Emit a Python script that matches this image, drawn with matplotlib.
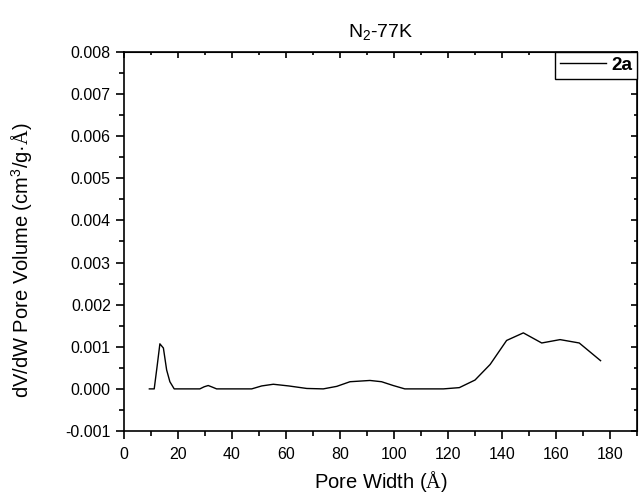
import matplotlib
matplotlib.use("Agg")
import matplotlib.pyplot as plt
from matplotlib.ticker import MultipleLocator, FormatStrFormatter

plt.rcParams['font.family'] = ['Liberation Sans', 'DejaVu Sans']
plt.rcParams['mathtext.fontset'] = 'custom'
plt.rcParams['mathtext.rm'] = 'Liberation Sans'
plt.rcParams['mathtext.it'] = 'Liberation Sans'
plt.rcParams['mathtext.cal'] = 'Liberation Serif'
plt.rcParams['axes.unicode_minus'] = False

# pore width (A) and dV/dW values
pore_width = [9.4, 11.2, 12.3, 13.3, 14.6, 15.8, 17.0, 18.6, 20.0, 25.0,
              28.1, 29.7, 31.2, 32.8, 34.3, 40.0, 47.3, 51.0, 55.3, 61.0,
              67.7, 73.8, 78.8, 83.7, 91.1, 95.4, 99.7, 104.0, 110.0, 118.3,
              124.2, 130.0, 135.6, 141.7, 147.9, 154.7, 161.5, 168.6, 176.5]
dvdw = [0.0, 0.0, 0.00055, 0.00107, 0.00097, 0.00045, 0.00017, 0.0, 0.0, 0.0,
        0.0, 0.00005, 0.00008, 0.00004, 0.0, 0.0, 0.0, 0.00007, 0.00011, 0.00007,
        0.00001, 0.0, 0.00006, 0.00017, 0.0002, 0.00017, 0.00008, 0.0, 0.0, 0.0,
        0.00003, 0.00021, 0.00058, 0.00115, 0.00133, 0.00109, 0.00117, 0.00109, 0.00067]

fig = plt.figure(figsize=(6.41, 4.97), dpi=100)
ax = fig.add_axes([0.1934, 0.1328, 0.8004, 0.7626])

ax.plot(pore_width, dvdw, color='black', linewidth=1.0, label='2a')

ax.set_xlim(0, 190)
ax.set_ylim(-0.001, 0.008)
ax.xaxis.set_major_locator(MultipleLocator(20))
ax.xaxis.set_minor_locator(MultipleLocator(10))
ax.yaxis.set_major_locator(MultipleLocator(0.001))
ax.yaxis.set_minor_locator(MultipleLocator(0.0005))
ax.yaxis.set_major_formatter(FormatStrFormatter('%.3f'))

ax.tick_params(which='both', direction='out', top=False, right=False, labelsize=11.5, width=1.2)
ax.tick_params(axis='x', pad=5.5)
ax.tick_params(which='major', length=6)
ax.tick_params(which='minor', length=3.5)
for s in ax.spines.values():
    s.set_linewidth(1.2)

# inward ticks on top and right spines
axt = ax.secondary_xaxis('top')
axt.xaxis.set_major_locator(MultipleLocator(20))
axt.xaxis.set_minor_locator(MultipleLocator(10))
axt.tick_params(which='both', direction='in', labeltop=False, width=1.2)
axt.tick_params(which='major', length=4)
axt.tick_params(which='minor', length=2.5)
axr = ax.secondary_yaxis('right')
axr.yaxis.set_major_locator(MultipleLocator(0.001))
axr.yaxis.set_minor_locator(MultipleLocator(0.0005))
axr.tick_params(which='both', direction='in', labelright=False, width=1.2)
axr.tick_params(which='major', length=4)
axr.tick_params(which='minor', length=2.5)

ax.set_xlabel('Pore Width ($\\mathcal{Å}$)', fontsize=14.5, labelpad=5)
ax.set_ylabel('dV/dW Pore Volume (cm$^3$/g·$\\mathcal{Å}$)', fontsize=14.5)
ax.yaxis.set_label_coords(-0.173, 0.45)
ax.set_title('N$_2$-77K', fontsize=14, pad=11)

leg = ax.legend(loc='upper right', borderaxespad=0, fancybox=False,
                edgecolor='black', framealpha=1, handlelength=2.4,
                handletextpad=0.3, borderpad=0.25,
                prop={'weight': 'bold', 'size': 13.7})
leg.get_frame().set_linewidth(1.0)

fig.savefig('out.png', dpi=100)
